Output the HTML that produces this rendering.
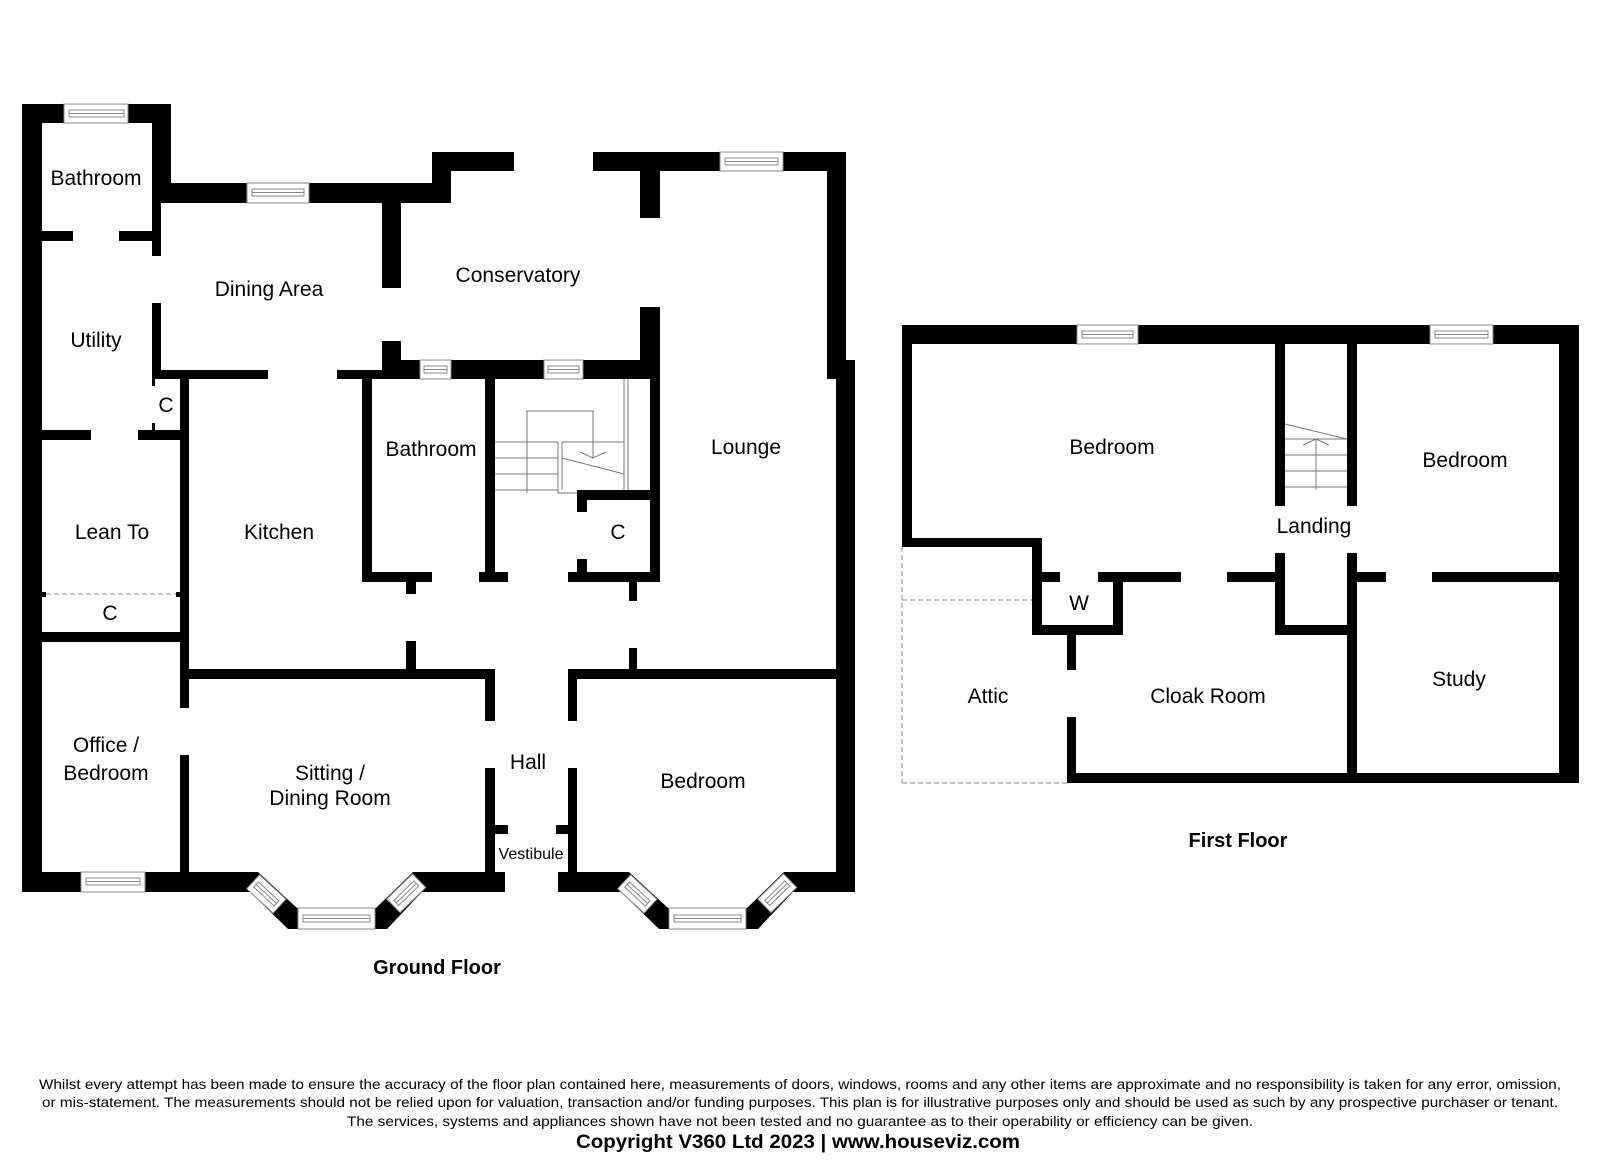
<!DOCTYPE html>
<html><head><meta charset="utf-8"><style>
html,body{margin:0;padding:0;background:#fff}
svg{display:block}
text{font-family:"Liberation Sans",sans-serif;fill:#000}
</style></head><body>
<svg width="1600" height="1161" viewBox="0 0 1600 1161" xmlns="http://www.w3.org/2000/svg">
<g fill="#000">
<!-- GROUND FLOOR -->
<rect x="22" y="104" width="20" height="788"/>
<rect x="22" y="104" width="149" height="19"/>
<rect x="152" y="104" width="19" height="79"/>
<rect x="152" y="183" width="9" height="73"/>
<rect x="42" y="231" width="31" height="10"/>
<rect x="119" y="231" width="42" height="10"/>
<rect x="152" y="183" width="299" height="20"/>
<rect x="432" y="152" width="19" height="51"/>
<rect x="432" y="152" width="82" height="19"/>
<rect x="593" y="152" width="253" height="19"/>
<rect x="827" y="152" width="19" height="227"/>
<rect x="827" y="360" width="28" height="19"/>
<rect x="836" y="360" width="19" height="532"/>
<rect x="640" y="171" width="20" height="47"/>
<rect x="382" y="203" width="19" height="85"/>
<rect x="640" y="307" width="20" height="72"/>
<rect x="152" y="303" width="9" height="76"/>
<rect x="152" y="370" width="116" height="9"/>
<rect x="337" y="370" width="64" height="9"/>
<rect x="382" y="341" width="19" height="38"/>
<rect x="382" y="360" width="278" height="19"/>
<rect x="152" y="379" width="3" height="7"/>
<rect x="152" y="423" width="3" height="7"/>
<rect x="22" y="430" width="69" height="10"/>
<rect x="138" y="430" width="51" height="10"/>
<rect x="180" y="379" width="9" height="329"/>
<rect x="180" y="755" width="9" height="117"/>
<rect x="362" y="379" width="10" height="203"/>
<rect x="362" y="572" width="70" height="10"/>
<rect x="406" y="582" width="10" height="12"/>
<rect x="485" y="379" width="10" height="203"/>
<rect x="479" y="572" width="29" height="10"/>
<rect x="577" y="490" width="83" height="10"/>
<rect x="577" y="500" width="10" height="12"/>
<rect x="577" y="559" width="10" height="13"/>
<rect x="568" y="572" width="92" height="10"/>
<rect x="650" y="379" width="10" height="203"/>
<rect x="629" y="582" width="8" height="19"/>
<rect x="22" y="632" width="167" height="10"/>
<rect x="40" y="592" width="6" height="5"/>
<rect x="176" y="592" width="6" height="5"/>
<rect x="180" y="669" width="315" height="10"/>
<rect x="406" y="641" width="10" height="28"/>
<rect x="568" y="669" width="282" height="10"/>
<rect x="629" y="648" width="8" height="21"/>
<rect x="485" y="669" width="10" height="52"/>
<rect x="485" y="768" width="10" height="104"/>
<rect x="495" y="825" width="13" height="9"/>
<rect x="568" y="669" width="9" height="52"/>
<rect x="568" y="768" width="9" height="104"/>
<rect x="556" y="825" width="12" height="9"/>
<rect x="22" y="872" width="236" height="20"/>
<rect x="413" y="872" width="92" height="20"/>
<rect x="558" y="872" width="71" height="20"/>
<rect x="784" y="872" width="71" height="20"/>
<polygon points="258,872 297,908 376,908 413,872 430,872 430,892 422,892 387,929 288,929 250,892 240,892 240,872"/>
<polygon transform="translate(371,0)" points="258,872 297,908 376,908 413,872 430,872 430,892 422,892 387,929 288,929 250,892 240,892 240,872"/>

<!-- FIRST FLOOR -->
<rect x="902" y="325" width="677" height="19"/>
<rect x="902" y="325" width="10" height="222"/>
<rect x="902" y="538" width="140" height="9"/>
<rect x="1032" y="538" width="10" height="97"/>
<rect x="1032" y="572" width="28" height="10"/>
<rect x="1098" y="572" width="83" height="10"/>
<rect x="1113" y="572" width="10" height="63"/>
<rect x="1032" y="625" width="91" height="10"/>
<rect x="1067" y="635" width="9" height="35"/>
<rect x="1067" y="717" width="9" height="66"/>
<rect x="1067" y="773" width="512" height="10"/>
<rect x="1275" y="344" width="10" height="162"/>
<rect x="1347" y="344" width="10" height="162"/>
<rect x="1227" y="572" width="58" height="10"/>
<rect x="1275" y="553" width="10" height="82"/>
<rect x="1347" y="553" width="10" height="230"/>
<rect x="1275" y="625" width="82" height="10"/>
<rect x="1347" y="572" width="39" height="10"/>
<rect x="1432" y="572" width="147" height="10"/>
<rect x="1559" y="325" width="20" height="458"/>
</g>

<g fill="#fff" stroke="#888" stroke-width="1">
<rect x="64" y="104" width="64" height="19"/><rect x="69" y="110" width="55" height="7" fill="none"/><line x1="69" y1="113.5" x2="124" y2="113.5"/>
<rect x="247" y="183" width="62" height="20"/><rect x="252" y="189" width="52" height="7" fill="none"/><line x1="252" y1="192.5" x2="304" y2="192.5"/>
<rect x="720" y="152" width="63" height="19"/><rect x="725" y="158" width="53" height="7" fill="none"/><line x1="725" y1="161.5" x2="778" y2="161.5"/>
<rect x="420" y="360" width="31" height="19"/><rect x="424" y="366" width="23" height="7" fill="none"/><line x1="424" y1="369.5" x2="447" y2="369.5"/>
<rect x="544" y="360" width="39" height="19"/><rect x="548" y="366" width="31" height="7" fill="none"/><line x1="548" y1="369.5" x2="579" y2="369.5"/>
<rect x="81" y="872" width="64" height="20"/><rect x="86" y="878" width="54" height="7" fill="none"/><line x1="86" y1="881.5" x2="140" y2="881.5"/>
<rect x="298" y="908" width="77" height="21"/><rect x="303" y="915" width="67" height="7" fill="none"/><line x1="303" y1="918.5" x2="370" y2="918.5"/>
<rect x="669" y="908" width="77" height="21"/><rect x="674" y="915" width="67" height="7" fill="none"/><line x1="674" y1="918.5" x2="741" y2="918.5"/>
<rect x="1077" y="325" width="61" height="19"/><rect x="1082" y="331" width="51" height="7" fill="none"/><line x1="1082" y1="334.5" x2="1133" y2="334.5"/>
<rect x="1430" y="325" width="63" height="19"/><rect x="1435" y="331" width="53" height="7" fill="none"/><line x1="1435" y1="334.5" x2="1488" y2="334.5"/>
<g transform="translate(258,872) rotate(42.7)"><rect x="3" y="1" width="36" height="19"/><rect x="7" y="7" width="28" height="7" fill="none"/><line x1="7" y1="10.5" x2="35" y2="10.5"/></g>
<g transform="translate(376,908) rotate(-44.2)"><rect x="14" y="1" width="36" height="19"/><rect x="18" y="7" width="28" height="7" fill="none"/><line x1="18" y1="10.5" x2="46" y2="10.5"/></g>
<g transform="translate(629,872) rotate(42.7)"><rect x="3" y="1" width="36" height="19"/><rect x="7" y="7" width="28" height="7" fill="none"/><line x1="7" y1="10.5" x2="35" y2="10.5"/></g>
<g transform="translate(747,908) rotate(-44.2)"><rect x="14" y="1" width="36" height="19"/><rect x="18" y="7" width="28" height="7" fill="none"/><line x1="18" y1="10.5" x2="46" y2="10.5"/></g>
</g>

<g stroke="#888" stroke-width="1" stroke-dasharray="5,3" fill="none">
<line x1="46" y1="594" x2="176" y2="594"/>
<line x1="902" y1="547" x2="902" y2="783"/>
<line x1="902" y1="600" x2="1032" y2="600"/>
<line x1="902" y1="783" x2="1067" y2="783"/>
</g>

<g stroke="#777" stroke-width="1" fill="none">
<line x1="624" y1="379" x2="624" y2="490"/>
<line x1="628" y1="379" x2="628" y2="490"/>
<polyline points="527,493 527,411 593,411 593,458"/>
<line x1="495" y1="442" x2="558" y2="442"/>
<line x1="495" y1="458" x2="558" y2="458"/>
<line x1="495" y1="474" x2="558" y2="474"/>
<line x1="495" y1="490" x2="558" y2="490"/>
<polyline points="558,442 558,493 577,493"/>
<polyline points="562,490 562,442 624,442"/>
<line x1="562" y1="458" x2="624" y2="474"/>
<polyline points="580,452 593,458 606,452"/>
</g>
<g stroke="#777" stroke-width="1" fill="none">
<line x1="1285" y1="424" x2="1347" y2="439"/>
<line x1="1285" y1="439" x2="1347" y2="439"/>
<line x1="1285" y1="455" x2="1347" y2="455"/>
<line x1="1285" y1="471" x2="1347" y2="471"/>
<line x1="1285" y1="487" x2="1347" y2="487"/>
<line x1="1316" y1="439" x2="1316" y2="490"/>
<polyline points="1303,445 1316,439 1329,445"/>
</g>

<g font-size="21" text-anchor="middle">
<text x="96" y="185">Bathroom</text>
<text x="269" y="296">Dining Area</text>
<text x="518" y="282">Conservatory</text>
<text x="96" y="347">Utility</text>
<text x="166" y="412">C</text>
<text x="112" y="539">Lean To</text>
<text x="279" y="539">Kitchen</text>
<text x="431" y="456">Bathroom</text>
<text x="746" y="454">Lounge</text>
<text x="618" y="539">C</text>
<text x="110" y="620">C</text>
<text x="106" y="752">Office /</text>
<text x="106" y="780">Bedroom</text>
<text x="330" y="780">Sitting /</text>
<text x="330" y="805">Dining Room</text>
<text x="528" y="769">Hall</text>
<text x="703" y="788">Bedroom</text>
<text x="531" y="859" font-size="16">Vestibule</text>
<text x="1112" y="454">Bedroom</text>
<text x="1465" y="467">Bedroom</text>
<text x="1314" y="533">Landing</text>
<text x="1079" y="610">W</text>
<text x="988" y="703">Attic</text>
<text x="1208" y="703">Cloak Room</text>
<text x="1459" y="686">Study</text>
</g>
<text x="437" y="974" font-size="20" font-weight="bold" text-anchor="middle">Ground Floor</text>
<text x="1238" y="847" font-size="20" font-weight="bold" text-anchor="middle">First Floor</text>
<g font-size="14" text-anchor="middle">
<text x="800" y="1089" textLength="1522" lengthAdjust="spacingAndGlyphs">Whilst every attempt has been made to ensure the accuracy of the floor plan contained here, measurements of doors, windows, rooms and any other items are approximate and no responsibility is taken for any error, omission,</text>
<text x="800" y="1107" textLength="1516" lengthAdjust="spacingAndGlyphs">or mis-statement. The measurements should not be relied upon for valuation, transaction and/or funding purposes. This plan is for illustrative purposes only and should be used as such by any prospective purchaser or tenant.</text>
<text x="800" y="1126" textLength="906" lengthAdjust="spacingAndGlyphs">The services, systems and appliances shown have not been tested and no guarantee as to their operability or efficiency can be given.</text>
</g>
<text x="798" y="1148" font-size="19" font-weight="bold" text-anchor="middle" textLength="444" lengthAdjust="spacingAndGlyphs">Copyright V360 Ltd 2023 | www.houseviz.com</text>
</svg>
</body></html>
